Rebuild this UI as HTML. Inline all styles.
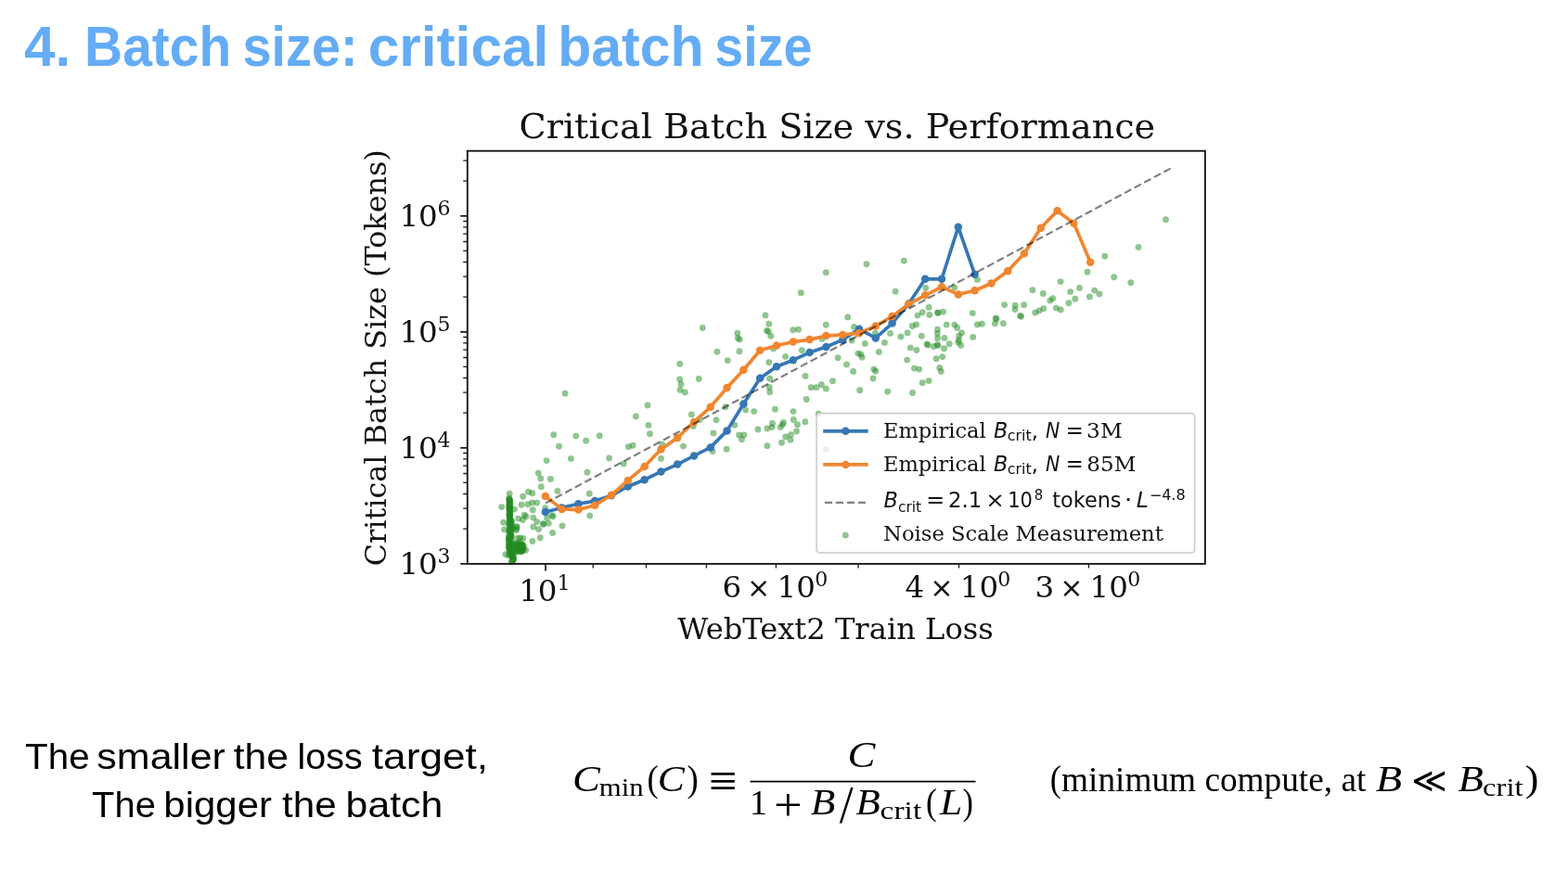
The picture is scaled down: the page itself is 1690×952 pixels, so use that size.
<!DOCTYPE html>
<html lang="en"><head><meta charset="utf-8"><title>4. Batch size: critical batch size</title>
<style>
html,body{margin:0;padding:0;background:#fff}
body{width:1690px;height:952px;position:relative;overflow:hidden;font-family:"Liberation Sans",sans-serif}
svg{display:block}
</style></head><body>
<svg width="1690" height="952" viewBox="0 0 1690 952" style="position:absolute;left:0;top:0">
<g fill="#228b22" fill-opacity="0.5">
<circle cx="602.5" cy="481.2" r="3.45"/>
<circle cx="677.4" cy="481.8" r="3.45"/>
<circle cx="682.1" cy="480.2" r="3.45"/>
<circle cx="713.7" cy="479.3" r="3.45"/>
<circle cx="589.1" cy="496.6" r="3.45"/>
<circle cx="615.4" cy="494.4" r="3.45"/>
<circle cx="656.6" cy="494.0" r="3.45"/>
<circle cx="672.2" cy="499.9" r="3.45"/>
<circle cx="712.4" cy="494.4" r="3.45"/>
<circle cx="632.9" cy="509.2" r="3.45"/>
<circle cx="580.2" cy="510.1" r="3.45"/>
<circle cx="582.7" cy="516.0" r="3.45"/>
<circle cx="593.4" cy="516.5" r="3.45"/>
<circle cx="583.3" cy="524.8" r="3.45"/>
<circle cx="600.9" cy="529.4" r="3.45"/>
<circle cx="635.3" cy="532.2" r="3.45"/>
<circle cx="569.5" cy="530.3" r="3.45"/>
<circle cx="573.8" cy="531.8" r="3.45"/>
<circle cx="563.7" cy="535.3" r="3.45"/>
<circle cx="562.0" cy="544.3" r="3.45"/>
<circle cx="568.8" cy="543.7" r="3.45"/>
<circle cx="573.6" cy="542.0" r="3.45"/>
<circle cx="578.7" cy="542.1" r="3.45"/>
<circle cx="574.2" cy="549.7" r="3.45"/>
<circle cx="587.7" cy="547.6" r="3.45"/>
<circle cx="595.1" cy="555.6" r="3.45"/>
<circle cx="596.0" cy="556.9" r="3.45"/>
<circle cx="635.7" cy="556.0" r="3.45"/>
<circle cx="565.2" cy="555.2" r="3.45"/>
<circle cx="567.0" cy="556.9" r="3.45"/>
<circle cx="574.8" cy="558.1" r="3.45"/>
<circle cx="578.8" cy="562.6" r="3.45"/>
<circle cx="585.7" cy="565.0" r="3.45"/>
<circle cx="591.3" cy="564.3" r="3.45"/>
<circle cx="589.6" cy="558.4" r="3.45"/>
<circle cx="606.0" cy="566.9" r="3.45"/>
<circle cx="574.8" cy="568.0" r="3.45"/>
<circle cx="732.7" cy="409.0" r="3.45"/>
<circle cx="734.0" cy="414.2" r="3.45"/>
<circle cx="733.1" cy="420.4" r="3.45"/>
<circle cx="738.3" cy="423.0" r="3.45"/>
<circle cx="753.2" cy="408.5" r="3.45"/>
<circle cx="829.7" cy="408.3" r="3.45"/>
<circle cx="829.2" cy="417.5" r="3.45"/>
<circle cx="829.7" cy="422.7" r="3.45"/>
<circle cx="698.0" cy="436.9" r="3.45"/>
<circle cx="745.3" cy="446.9" r="3.45"/>
<circle cx="781.9" cy="438.8" r="3.45"/>
<circle cx="803.7" cy="442.1" r="3.45"/>
<circle cx="812.7" cy="443.6" r="3.45"/>
<circle cx="835.4" cy="441.2" r="3.45"/>
<circle cx="855.0" cy="443.6" r="3.45"/>
<circle cx="754.0" cy="452.5" r="3.45"/>
<circle cx="772.0" cy="452.7" r="3.45"/>
<circle cx="747.3" cy="459.6" r="3.45"/>
<circle cx="791.8" cy="458.2" r="3.45"/>
<circle cx="698.9" cy="458.4" r="3.45"/>
<circle cx="700.5" cy="467.7" r="3.45"/>
<circle cx="768.9" cy="467.0" r="3.45"/>
<circle cx="816.9" cy="463.0" r="3.45"/>
<circle cx="826.9" cy="462.0" r="3.45"/>
<circle cx="832.1" cy="460.6" r="3.45"/>
<circle cx="832.5" cy="456.5" r="3.45"/>
<circle cx="841.1" cy="460.6" r="3.45"/>
<circle cx="843.4" cy="457.8" r="3.45"/>
<circle cx="844.4" cy="455.4" r="3.45"/>
<circle cx="855.3" cy="452.5" r="3.45"/>
<circle cx="859.5" cy="457.8" r="3.45"/>
<circle cx="858.5" cy="465.0" r="3.45"/>
<circle cx="796.6" cy="468.9" r="3.45"/>
<circle cx="801.8" cy="468.9" r="3.45"/>
<circle cx="799.4" cy="473.8" r="3.45"/>
<circle cx="846.7" cy="471.0" r="3.45"/>
<circle cx="852.4" cy="468.6" r="3.45"/>
<circle cx="852.0" cy="474.3" r="3.45"/>
<circle cx="842.5" cy="477.2" r="3.45"/>
<circle cx="826.9" cy="480.7" r="3.45"/>
<circle cx="736.5" cy="481.1" r="3.45"/>
<circle cx="783.1" cy="484.2" r="3.45"/>
<circle cx="768.1" cy="486.6" r="3.45"/>
<circle cx="825.0" cy="340.0" r="3.45"/>
<circle cx="913.7" cy="341.9" r="3.45"/>
<circle cx="828.8" cy="349.3" r="3.45"/>
<circle cx="890.3" cy="350.3" r="3.45"/>
<circle cx="920.5" cy="352.4" r="3.45"/>
<circle cx="854.8" cy="355.8" r="3.45"/>
<circle cx="860.5" cy="355.2" r="3.45"/>
<circle cx="826.4" cy="356.5" r="3.45"/>
<circle cx="828.3" cy="357.4" r="3.45"/>
<circle cx="830.8" cy="362.3" r="3.45"/>
<circle cx="794.8" cy="359.2" r="3.45"/>
<circle cx="795.3" cy="364.5" r="3.45"/>
<circle cx="797.2" cy="366.0" r="3.45"/>
<circle cx="886.0" cy="365.4" r="3.45"/>
<circle cx="918.1" cy="367.0" r="3.45"/>
<circle cx="932.3" cy="370.4" r="3.45"/>
<circle cx="796.9" cy="378.7" r="3.45"/>
<circle cx="833.5" cy="375.9" r="3.45"/>
<circle cx="864.3" cy="377.8" r="3.45"/>
<circle cx="784.3" cy="388.6" r="3.45"/>
<circle cx="846.6" cy="384.4" r="3.45"/>
<circle cx="828.8" cy="390.8" r="3.45"/>
<circle cx="903.1" cy="385.8" r="3.45"/>
<circle cx="924.9" cy="381.1" r="3.45"/>
<circle cx="927.7" cy="382.0" r="3.45"/>
<circle cx="929.1" cy="385.3" r="3.45"/>
<circle cx="912.5" cy="392.9" r="3.45"/>
<circle cx="919.6" cy="400.4" r="3.45"/>
<circle cx="941.9" cy="398.1" r="3.45"/>
<circle cx="943.8" cy="400.2" r="3.45"/>
<circle cx="868.0" cy="405.4" r="3.45"/>
<circle cx="897.5" cy="410.7" r="3.45"/>
<circle cx="941.0" cy="408.0" r="3.45"/>
<circle cx="934.0" cy="284.7" r="3.45"/>
<circle cx="974.3" cy="281.3" r="3.45"/>
<circle cx="965.1" cy="314.2" r="3.45"/>
<circle cx="997.8" cy="310.5" r="3.45"/>
<circle cx="1028.8" cy="310.1" r="3.45"/>
<circle cx="1053.4" cy="301.4" r="3.45"/>
<circle cx="1001.1" cy="331.4" r="3.45"/>
<circle cx="994.2" cy="336.8" r="3.45"/>
<circle cx="989.0" cy="340.1" r="3.45"/>
<circle cx="1001.8" cy="339.5" r="3.45"/>
<circle cx="1010.8" cy="337.3" r="3.45"/>
<circle cx="1016.5" cy="336.3" r="3.45"/>
<circle cx="1048.2" cy="337.6" r="3.45"/>
<circle cx="983.3" cy="351.5" r="3.45"/>
<circle cx="987.6" cy="349.9" r="3.45"/>
<circle cx="1020.2" cy="350.1" r="3.45"/>
<circle cx="1028.8" cy="350.1" r="3.45"/>
<circle cx="1031.6" cy="353.4" r="3.45"/>
<circle cx="1053.4" cy="350.0" r="3.45"/>
<circle cx="1058.3" cy="349.2" r="3.45"/>
<circle cx="1010.5" cy="355.2" r="3.45"/>
<circle cx="1010.3" cy="359.6" r="3.45"/>
<circle cx="1010.6" cy="364.8" r="3.45"/>
<circle cx="1017.9" cy="364.4" r="3.45"/>
<circle cx="1036.5" cy="359.0" r="3.45"/>
<circle cx="1033.6" cy="362.2" r="3.45"/>
<circle cx="1033.4" cy="366.6" r="3.45"/>
<circle cx="1048.7" cy="363.4" r="3.45"/>
<circle cx="943.5" cy="359.2" r="3.45"/>
<circle cx="959.5" cy="359.4" r="3.45"/>
<circle cx="978.1" cy="358.9" r="3.45"/>
<circle cx="970.9" cy="363.0" r="3.45"/>
<circle cx="993.3" cy="362.2" r="3.45"/>
<circle cx="953.4" cy="369.4" r="3.45"/>
<circle cx="1014.3" cy="400.5" r="3.45"/>
<circle cx="1001.1" cy="410.6" r="3.45"/>
<circle cx="994.2" cy="412.8" r="3.45"/>
<circle cx="885.4" cy="414.7" r="3.45"/>
<circle cx="874.2" cy="417.8" r="3.45"/>
<circle cx="879.9" cy="417.8" r="3.45"/>
<circle cx="890.3" cy="419.1" r="3.45"/>
<circle cx="926.7" cy="420.8" r="3.45"/>
<circle cx="956.7" cy="422.3" r="3.45"/>
<circle cx="983.5" cy="423.5" r="3.45"/>
<circle cx="869.2" cy="430.5" r="3.45"/>
<circle cx="867.8" cy="454.7" r="3.45"/>
<circle cx="882.2" cy="446.2" r="3.45"/>
<circle cx="1032.8" cy="369.2" r="3.45"/>
<circle cx="1035.6" cy="372.3" r="3.45"/>
<circle cx="999.0" cy="371.0" r="3.45"/>
<circle cx="1000.0" cy="372.0" r="3.45"/>
<circle cx="1006.3" cy="373.5" r="3.45"/>
<circle cx="1010.2" cy="371.6" r="3.45"/>
<circle cx="1011.0" cy="372.6" r="3.45"/>
<circle cx="1023.2" cy="370.8" r="3.45"/>
<circle cx="1017.6" cy="375.8" r="3.45"/>
<circle cx="981.2" cy="374.9" r="3.45"/>
<circle cx="987.8" cy="377.5" r="3.45"/>
<circle cx="947.4" cy="379.4" r="3.45"/>
<circle cx="977.6" cy="388.1" r="3.45"/>
<circle cx="1009.1" cy="386.7" r="3.45"/>
<circle cx="1015.7" cy="384.6" r="3.45"/>
<circle cx="985.4" cy="397.1" r="3.45"/>
<circle cx="990.7" cy="398.1" r="3.45"/>
<circle cx="1012.7" cy="396.5" r="3.45"/>
<circle cx="1172.0" cy="293.2" r="3.45"/>
<circle cx="1200.7" cy="298.7" r="3.45"/>
<circle cx="1143.0" cy="303.6" r="3.45"/>
<circle cx="1112.9" cy="312.7" r="3.45"/>
<circle cx="1124.3" cy="316.5" r="3.45"/>
<circle cx="1163.5" cy="310.4" r="3.45"/>
<circle cx="1153.6" cy="314.6" r="3.45"/>
<circle cx="1179.6" cy="313.1" r="3.45"/>
<circle cx="1184.9" cy="317.0" r="3.45"/>
<circle cx="1174.4" cy="319.9" r="3.45"/>
<circle cx="1158.8" cy="322.2" r="3.45"/>
<circle cx="1134.7" cy="321.7" r="3.45"/>
<circle cx="1131.8" cy="324.1" r="3.45"/>
<circle cx="1151.9" cy="326.7" r="3.45"/>
<circle cx="1082.6" cy="328.6" r="3.45"/>
<circle cx="1094.2" cy="329.3" r="3.45"/>
<circle cx="1094.0" cy="333.6" r="3.45"/>
<circle cx="1103.6" cy="328.8" r="3.45"/>
<circle cx="1124.7" cy="332.8" r="3.45"/>
<circle cx="1120.0" cy="335.0" r="3.45"/>
<circle cx="1115.7" cy="337.1" r="3.45"/>
<circle cx="1138.3" cy="332.1" r="3.45"/>
<circle cx="1143.2" cy="334.0" r="3.45"/>
<circle cx="1099.6" cy="340.5" r="3.45"/>
<circle cx="1100.6" cy="341.3" r="3.45"/>
<circle cx="1073.2" cy="343.0" r="3.45"/>
<circle cx="1074.0" cy="344.0" r="3.45"/>
<circle cx="1072.4" cy="348.7" r="3.45"/>
<circle cx="1081.4" cy="348.7" r="3.45"/>
<circle cx="1256.5" cy="236.8" r="3.45"/>
<circle cx="1227.0" cy="266.5" r="3.45"/>
<circle cx="1190.8" cy="276.3" r="3.45"/>
<circle cx="1218.8" cy="304.8" r="3.45"/>
<circle cx="890.3" cy="293.7" r="3.45"/>
<circle cx="863.3" cy="315.8" r="3.45"/>
<circle cx="757.3" cy="353.5" r="3.45"/>
<circle cx="772.9" cy="379.2" r="3.45"/>
<circle cx="732.7" cy="392.2" r="3.45"/>
<circle cx="609.0" cy="424.3" r="3.45"/>
<circle cx="685.4" cy="449.0" r="3.45"/>
<circle cx="596.7" cy="468.8" r="3.45"/>
<circle cx="620.8" cy="470.1" r="3.45"/>
<circle cx="646.2" cy="469.8" r="3.45"/>
<circle cx="631.7" cy="475.3" r="3.45"/>
<circle cx="549.2" cy="532.1" r="3.45"/>
<circle cx="540.7" cy="546.6" r="3.45"/>
<circle cx="542.6" cy="563.2" r="3.45"/>
<circle cx="543.6" cy="570.9" r="3.45"/>
<circle cx="545.0" cy="597.7" r="3.45"/>
<circle cx="554.4" cy="549.1" r="3.45"/>
<circle cx="557.3" cy="568.1" r="3.45"/>
<circle cx="556.3" cy="571.4" r="3.45"/>
<circle cx="558.7" cy="559.1" r="3.45"/>
<circle cx="563.4" cy="560.5" r="3.45"/>
<circle cx="580.5" cy="570.6" r="3.45"/>
<circle cx="595.6" cy="574.4" r="3.45"/>
<circle cx="582.2" cy="579.7" r="3.45"/>
<circle cx="573.8" cy="583.5" r="3.45"/>
<circle cx="560.6" cy="579.9" r="3.45"/>
<circle cx="563.9" cy="580.4" r="3.45"/>
<circle cx="557.8" cy="580.4" r="3.45"/>
<circle cx="566.7" cy="593.2" r="3.45"/>
<circle cx="563.4" cy="587.5" r="3.45"/>
<circle cx="560.6" cy="590.3" r="3.45"/>
<circle cx="556.8" cy="595.1" r="3.45"/>
<circle cx="559.0" cy="586.5" r="3.45"/>
<circle cx="562.0" cy="592.0" r="3.45"/>
<circle cx="558.0" cy="591.0" r="3.45"/>
<circle cx="564.5" cy="590.0" r="3.45"/>
<circle cx="561.5" cy="594.0" r="3.45"/>
<circle cx="557.5" cy="588.0" r="3.45"/>
<circle cx="560.0" cy="584.5" r="3.45"/>
<circle cx="1010.8" cy="337.3" r="3.45"/>
<circle cx="585.7" cy="565.0" r="3.45"/>
<circle cx="560.2" cy="589.5" r="3.45"/>
<circle cx="561.2" cy="591.0" r="3.45"/>
<circle cx="559.5" cy="592.5" r="3.45"/>
<circle cx="562.5" cy="588.5" r="3.45"/>
<circle cx="560.8" cy="593.5" r="3.45"/>
<circle cx="558.8" cy="590.0" r="3.45"/>
<circle cx="563.0" cy="591.5" r="3.45"/>
<circle cx="561.8" cy="587.0" r="3.45"/>
<circle cx="559.8" cy="594.5" r="3.45"/>
<circle cx="557.6" cy="592.8" r="3.45"/>
<circle cx="564.0" cy="593.0" r="3.45"/>
<circle cx="562.2" cy="595.0" r="3.45"/>
<circle cx="548.9" cy="537.3" r="3.45"/>
<circle cx="548.8" cy="538.3" r="3.45"/>
<circle cx="549.2" cy="538.9" r="3.45"/>
<circle cx="549.4" cy="539.1" r="3.45"/>
<circle cx="549.3" cy="539.8" r="3.45"/>
<circle cx="548.9" cy="540.5" r="3.45"/>
<circle cx="549.7" cy="541.6" r="3.45"/>
<circle cx="549.0" cy="542.0" r="3.45"/>
<circle cx="549.9" cy="543.2" r="3.45"/>
<circle cx="549.2" cy="543.8" r="3.45"/>
<circle cx="548.8" cy="544.9" r="3.45"/>
<circle cx="549.1" cy="545.5" r="3.45"/>
<circle cx="548.9" cy="545.4" r="3.45"/>
<circle cx="549.7" cy="546.3" r="3.45"/>
<circle cx="549.4" cy="546.9" r="3.45"/>
<circle cx="549.2" cy="548.0" r="3.45"/>
<circle cx="548.8" cy="548.6" r="3.45"/>
<circle cx="549.0" cy="548.8" r="3.45"/>
<circle cx="549.3" cy="550.1" r="3.45"/>
<circle cx="549.5" cy="550.4" r="3.45"/>
<circle cx="549.1" cy="551.3" r="3.45"/>
<circle cx="549.6" cy="552.3" r="3.45"/>
<circle cx="549.4" cy="552.4" r="3.45"/>
<circle cx="549.8" cy="553.4" r="3.45"/>
<circle cx="549.1" cy="554.3" r="3.45"/>
<circle cx="548.9" cy="555.3" r="3.45"/>
<circle cx="549.7" cy="555.4" r="3.45"/>
<circle cx="549.3" cy="555.8" r="3.45"/>
<circle cx="549.6" cy="556.4" r="3.45"/>
<circle cx="549.4" cy="557.8" r="3.45"/>
<circle cx="549.1" cy="558.6" r="3.45"/>
<circle cx="549.5" cy="559.1" r="3.45"/>
<circle cx="549.3" cy="559.7" r="3.45"/>
<circle cx="549.9" cy="560.6" r="3.45"/>
<circle cx="549.5" cy="561.0" r="3.45"/>
<circle cx="550.8" cy="561.2" r="3.45"/>
<circle cx="551.9" cy="562.5" r="3.45"/>
<circle cx="549.2" cy="563.4" r="3.45"/>
<circle cx="550.6" cy="563.6" r="3.45"/>
<circle cx="549.9" cy="564.0" r="3.45"/>
<circle cx="548.5" cy="564.8" r="3.45"/>
<circle cx="551.0" cy="565.4" r="3.45"/>
<circle cx="549.0" cy="566.2" r="3.45"/>
<circle cx="551.4" cy="567.1" r="3.45"/>
<circle cx="549.8" cy="567.5" r="3.45"/>
<circle cx="551.5" cy="568.6" r="3.45"/>
<circle cx="551.4" cy="569.6" r="3.45"/>
<circle cx="549.7" cy="569.8" r="3.45"/>
<circle cx="551.5" cy="570.5" r="3.45"/>
<circle cx="548.7" cy="571.8" r="3.45"/>
<circle cx="549.0" cy="571.7" r="3.45"/>
<circle cx="549.9" cy="572.5" r="3.45"/>
<circle cx="549.1" cy="573.5" r="3.45"/>
<circle cx="549.7" cy="573.6" r="3.45"/>
<circle cx="550.3" cy="574.7" r="3.45"/>
<circle cx="550.7" cy="576.0" r="3.45"/>
<circle cx="550.4" cy="576.2" r="3.45"/>
<circle cx="548.3" cy="577.1" r="3.45"/>
<circle cx="551.1" cy="578.0" r="3.45"/>
<circle cx="551.1" cy="578.6" r="3.45"/>
<circle cx="549.6" cy="578.9" r="3.45"/>
<circle cx="550.5" cy="579.3" r="3.45"/>
<circle cx="548.4" cy="579.9" r="3.45"/>
<circle cx="548.7" cy="580.7" r="3.45"/>
<circle cx="548.3" cy="581.6" r="3.45"/>
<circle cx="548.7" cy="581.9" r="3.45"/>
<circle cx="549.5" cy="582.7" r="3.45"/>
<circle cx="551.4" cy="583.3" r="3.45"/>
<circle cx="548.7" cy="584.6" r="3.45"/>
<circle cx="549.4" cy="584.9" r="3.45"/>
<circle cx="548.6" cy="585.7" r="3.45"/>
<circle cx="551.9" cy="586.9" r="3.45"/>
<circle cx="549.9" cy="587.2" r="3.45"/>
<circle cx="548.5" cy="587.5" r="3.45"/>
<circle cx="549.1" cy="588.5" r="3.45"/>
<circle cx="548.7" cy="589.7" r="3.45"/>
<circle cx="551.7" cy="589.5" r="3.45"/>
<circle cx="548.7" cy="590.7" r="3.45"/>
<circle cx="548.2" cy="591.4" r="3.45"/>
<circle cx="551.8" cy="592.1" r="3.45"/>
<circle cx="550.7" cy="593.1" r="3.45"/>
<circle cx="549.5" cy="593.2" r="3.45"/>
<circle cx="551.0" cy="593.8" r="3.45"/>
<circle cx="551.1" cy="594.9" r="3.45"/>
<circle cx="548.9" cy="595.4" r="3.45"/>
<circle cx="551.8" cy="596.5" r="3.45"/>
<circle cx="551.2" cy="597.3" r="3.45"/>
<circle cx="550.9" cy="597.9" r="3.45"/>
<circle cx="550.1" cy="598.0" r="3.45"/>
<circle cx="548.2" cy="598.9" r="3.45"/>
<circle cx="551.3" cy="597.5" r="3.45"/>
<circle cx="551.9" cy="598.3" r="3.45"/>
<circle cx="551.8" cy="599.0" r="3.45"/>
<circle cx="552.9" cy="599.8" r="3.45"/>
<circle cx="553.5" cy="600.6" r="3.45"/>
<circle cx="552.3" cy="601.4" r="3.45"/>
<circle cx="553.4" cy="602.1" r="3.45"/>
<circle cx="553.6" cy="602.9" r="3.45"/>
<circle cx="553.5" cy="603.7" r="3.45"/>
<circle cx="552.1" cy="604.5" r="3.45"/>
<circle cx="551.7" cy="605.2" r="3.45"/>
<circle cx="551.7" cy="606.0" r="3.45"/>
<circle cx="560.5" cy="591.5" r="3.45"/>
<circle cx="556.6" cy="586.5" r="3.45"/>
<circle cx="561.4" cy="587.8" r="3.45"/>
<circle cx="557.7" cy="586.6" r="3.45"/>
<circle cx="562.8" cy="591.7" r="3.45"/>
<circle cx="563.2" cy="587.8" r="3.45"/>
<circle cx="560.0" cy="587.4" r="3.45"/>
<circle cx="561.7" cy="593.7" r="3.45"/>
<circle cx="558.0" cy="593.6" r="3.45"/>
<circle cx="562.2" cy="589.6" r="3.45"/>
<circle cx="555.7" cy="593.2" r="3.45"/>
<circle cx="559.8" cy="588.6" r="3.45"/>
<circle cx="560.9" cy="590.9" r="3.45"/>
<circle cx="563.3" cy="587.7" r="3.45"/>
<circle cx="562.5" cy="593.4" r="3.45"/>
<circle cx="563.2" cy="589.6" r="3.45"/>
<circle cx="554.7" cy="586.0" r="3.45"/>
<circle cx="555.1" cy="587.8" r="3.45"/>
<circle cx="554.3" cy="589.6" r="3.45"/>
<circle cx="554.0" cy="591.4" r="3.45"/>
<circle cx="555.9" cy="593.2" r="3.45"/>
<circle cx="555.3" cy="595.0" r="3.45"/>
<circle cx="556.6" cy="567.6" r="3.45"/>
<circle cx="556.5" cy="570.8" r="3.45"/>
</g>
<polyline points="587.8,552.1 605.6,547.4 623.4,543.2 641.2,540.1 659.0,534.3 676.8,524.5 694.6,517.2 712.4,508.6 730.2,500.6 748.0,491.5 765.8,482.4 783.6,464.4 801.4,435.5 819.2,407.8 837.0,395.3 854.8,388.2 872.6,380.1 890.4,374.0 908.2,366.4 926.0,354.7 943.8,364.5 961.6,348.6 979.4,327.5 997.2,300.8 1015.0,300.8 1032.8,244.8 1050.6,295.8" fill="none" stroke="#3577b4" stroke-width="3.65" stroke-linejoin="round" stroke-linecap="round"/>
<g fill="#3577b4"><circle cx="587.8" cy="552.1" r="4.25"/><circle cx="605.6" cy="547.4" r="4.25"/><circle cx="623.4" cy="543.2" r="4.25"/><circle cx="641.2" cy="540.1" r="4.25"/><circle cx="659.0" cy="534.3" r="4.25"/><circle cx="676.8" cy="524.5" r="4.25"/><circle cx="694.6" cy="517.2" r="4.25"/><circle cx="712.4" cy="508.6" r="4.25"/><circle cx="730.2" cy="500.6" r="4.25"/><circle cx="748.0" cy="491.5" r="4.25"/><circle cx="765.8" cy="482.4" r="4.25"/><circle cx="783.6" cy="464.4" r="4.25"/><circle cx="801.4" cy="435.5" r="4.25"/><circle cx="819.2" cy="407.8" r="4.25"/><circle cx="837.0" cy="395.3" r="4.25"/><circle cx="854.8" cy="388.2" r="4.25"/><circle cx="872.6" cy="380.1" r="4.25"/><circle cx="890.4" cy="374.0" r="4.25"/><circle cx="908.2" cy="366.4" r="4.25"/><circle cx="926.0" cy="354.7" r="4.25"/><circle cx="943.8" cy="364.5" r="4.25"/><circle cx="961.6" cy="348.6" r="4.25"/><circle cx="979.4" cy="327.5" r="4.25"/><circle cx="997.2" cy="300.8" r="4.25"/><circle cx="1015.0" cy="300.8" r="4.25"/><circle cx="1032.8" cy="244.8" r="4.25"/><circle cx="1050.6" cy="295.8" r="4.25"/></g>
<polyline points="587.8,534.9 605.6,548.9 623.4,549.6 641.2,544.7 659.0,533.8 676.8,517.9 694.6,503.0 712.4,484.4 730.2,472.0 748.0,454.9 765.8,438.8 783.6,418.0 801.4,398.8 819.2,377.8 837.0,372.5 854.8,368.6 872.6,366.1 890.4,362.1 908.2,360.9 926.0,359.2 943.8,351.5 961.6,341.1 979.4,327.8 997.2,318.3 1015.0,309.3 1032.8,317.4 1050.6,313.2 1068.4,305.5 1086.2,292.3 1104.0,273.2 1121.8,245.8 1139.6,227.2 1157.4,240.7 1175.2,282.8" fill="none" stroke="#f0862f" stroke-width="3.65" stroke-linejoin="round" stroke-linecap="round"/>
<g fill="#f0862f"><circle cx="587.8" cy="534.9" r="4.25"/><circle cx="605.6" cy="548.9" r="4.25"/><circle cx="623.4" cy="549.6" r="4.25"/><circle cx="641.2" cy="544.7" r="4.25"/><circle cx="659.0" cy="533.8" r="4.25"/><circle cx="676.8" cy="517.9" r="4.25"/><circle cx="694.6" cy="503.0" r="4.25"/><circle cx="712.4" cy="484.4" r="4.25"/><circle cx="730.2" cy="472.0" r="4.25"/><circle cx="748.0" cy="454.9" r="4.25"/><circle cx="765.8" cy="438.8" r="4.25"/><circle cx="783.6" cy="418.0" r="4.25"/><circle cx="801.4" cy="398.8" r="4.25"/><circle cx="819.2" cy="377.8" r="4.25"/><circle cx="837.0" cy="372.5" r="4.25"/><circle cx="854.8" cy="368.6" r="4.25"/><circle cx="872.6" cy="366.1" r="4.25"/><circle cx="890.4" cy="362.1" r="4.25"/><circle cx="908.2" cy="360.9" r="4.25"/><circle cx="926.0" cy="359.2" r="4.25"/><circle cx="943.8" cy="351.5" r="4.25"/><circle cx="961.6" cy="341.1" r="4.25"/><circle cx="979.4" cy="327.8" r="4.25"/><circle cx="997.2" cy="318.3" r="4.25"/><circle cx="1015.0" cy="309.3" r="4.25"/><circle cx="1032.8" cy="317.4" r="4.25"/><circle cx="1050.6" cy="313.2" r="4.25"/><circle cx="1068.4" cy="305.5" r="4.25"/><circle cx="1086.2" cy="292.3" r="4.25"/><circle cx="1104.0" cy="273.2" r="4.25"/><circle cx="1121.8" cy="245.8" r="4.25"/><circle cx="1139.6" cy="227.2" r="4.25"/><circle cx="1157.4" cy="240.7" r="4.25"/><circle cx="1175.2" cy="282.8" r="4.25"/></g>
<line x1="588.0" y1="542.5" x2="1262.5" y2="181.1" stroke="#000" stroke-opacity="0.5" stroke-width="2.2" stroke-dasharray="8.15 3.85"/>
<rect x="503.8" y="162.7" width="795.1" height="445.2" fill="none" stroke="#1a1a1a" stroke-width="1.9"/>
<path d="M496.2 607.8H503.8 M496.2 482.8H503.8 M496.2 357.8H503.8 M496.2 232.8H503.8" stroke="#1a1a1a" stroke-width="1.7" fill="none"/>
<path d="M499.2 570.2H503.8 M499.2 548.2H503.8 M499.2 532.5H503.8 M499.2 520.4H503.8 M499.2 510.5H503.8 M499.2 502.2H503.8 M499.2 494.9H503.8 M499.2 488.5H503.8 M499.2 445.2H503.8 M499.2 423.2H503.8 M499.2 407.5H503.8 M499.2 395.4H503.8 M499.2 385.5H503.8 M499.2 377.2H503.8 M499.2 369.9H503.8 M499.2 363.5H503.8 M499.2 320.2H503.8 M499.2 298.2H503.8 M499.2 282.5H503.8 M499.2 270.4H503.8 M499.2 260.5H503.8 M499.2 252.2H503.8 M499.2 244.9H503.8 M499.2 238.5H503.8 M499.2 195.2H503.8 M499.2 173.2H503.8 M639.2 607.9V612.5 M696.5 607.9V612.5 M761.4 607.9V612.5 M836.4 607.9V612.5 M925.0 607.9V612.5 M1033.5 607.9V612.5 M1173.4 607.9V612.5" stroke="#1a1a1a" stroke-width="1.3" fill="none"/>
<path d="M588.0 607.9V615.5" stroke="#1a1a1a" stroke-width="1.7" fill="none"/>
<g fill="#111">
<text x="430.44" y="619.1" font-family="'DejaVu Serif', serif" font-size="32.5">10</text>
<text x="471.5" y="606.9" font-family="'DejaVu Serif', serif" font-size="22">3</text>
<text x="430.44" y="494.1" font-family="'DejaVu Serif', serif" font-size="32.5">10</text>
<text x="471.5" y="481.9" font-family="'DejaVu Serif', serif" font-size="22">4</text>
<text x="430.44" y="369.1" font-family="'DejaVu Serif', serif" font-size="32.5">10</text>
<text x="471.5" y="356.9" font-family="'DejaVu Serif', serif" font-size="22">5</text>
<text x="430.44" y="244.1" font-family="'DejaVu Serif', serif" font-size="32.5">10</text>
<text x="471.5" y="231.9" font-family="'DejaVu Serif', serif" font-size="22">6</text>
<text x="559.13" y="647.8" font-family="'DejaVu Serif', serif" font-size="32.5">10</text>
<text x="600.62" y="636.0" font-family="'DejaVu Serif', serif" font-size="22">1</text>
<text x="778.4" y="643.8" font-family="'DejaVu Serif', serif" font-size="32.5">6</text>
<text x="805.11" y="643.8" font-family="'DejaVu Sans', sans-serif" font-size="30.2">×</text>
<text x="837.57" y="643.8" font-family="'DejaVu Serif', serif" font-size="32.5">10</text>
<text x="878.13" y="632.1" font-family="'DejaVu Serif', serif" font-size="22">0</text>
<text x="975.5" y="643.8" font-family="'DejaVu Serif', serif" font-size="32.5">4</text>
<text x="1002.27" y="643.8" font-family="'DejaVu Sans', sans-serif" font-size="30.2">×</text>
<text x="1034.72" y="643.8" font-family="'DejaVu Serif', serif" font-size="32.5">10</text>
<text x="1075.28" y="632.1" font-family="'DejaVu Serif', serif" font-size="22">0</text>
<text x="1115.4" y="643.8" font-family="'DejaVu Serif', serif" font-size="32.5">3</text>
<text x="1142.15" y="643.8" font-family="'DejaVu Sans', sans-serif" font-size="30.2">×</text>
<text x="1174.60" y="643.8" font-family="'DejaVu Serif', serif" font-size="32.5">10</text>
<text x="1215.16" y="632.1" font-family="'DejaVu Serif', serif" font-size="22">0</text>
</g>
<g font-family="'DejaVu Serif', serif" fill="#111">
<text x="902.3" y="149.0" font-size="38.15" text-anchor="middle">Critical Batch Size vs. Performance</text>
<text x="900.5" y="688.6" font-size="32.15" text-anchor="middle">WebText2 Train Loss</text>
<text transform="translate(415.7 385.75) rotate(-90)" font-size="31.85" text-anchor="middle">Critical Batch Size (Tokens)</text>
</g>
<g fill="#228b22" fill-opacity="0.5"><circle cx="890.3" cy="484.3" r="3.45"/></g>
<rect x="880.0" y="445.7" width="407.6" height="150.2" rx="3.6" fill="#fff" fill-opacity="0.8" stroke="#cfcfcf" stroke-width="1.7"/>
<path d="M887.2 464.8H935.7" stroke="#3577b4" stroke-width="3.65" fill="none"/><circle cx="911.4" cy="464.8" r="4.25" fill="#3577b4"/>
<path d="M887.2 500.9H935.7" stroke="#f0862f" stroke-width="3.65" fill="none"/><circle cx="911.4" cy="500.9" r="4.25" fill="#f0862f"/>
<path d="M888.9 541.8H933" stroke="#000" stroke-opacity="0.5" stroke-width="2.2" stroke-dasharray="8.15 3.85" fill="none"/>
<circle cx="911.3" cy="577.0" r="3.5" fill="#228b22" fill-opacity="0.5"/>
<g fill="#111">
<text x="952.06" y="471.6" font-family="'DejaVu Serif', serif" font-size="22.6" textLength="110.72" lengthAdjust="spacingAndGlyphs">Empirical</text>
<text x="1071.00" y="471.6" font-family="'DejaVu Sans', sans-serif" font-style="oblique" font-size="22.6" textLength="15.26" lengthAdjust="spacingAndGlyphs">B</text>
<text x="1085.82" y="475.4" font-family="'DejaVu Sans', sans-serif" font-size="15.8" textLength="25.96" lengthAdjust="spacingAndGlyphs">crit</text>
<text x="1111.86" y="471.6" font-family="'DejaVu Sans', sans-serif" font-size="22.6">,</text>
<text x="1126.95" y="471.6" font-family="'DejaVu Sans', sans-serif" font-style="oblique" font-size="22.6" textLength="15.31" lengthAdjust="spacingAndGlyphs">N</text>
<text x="1148.70" y="471.6" font-family="'DejaVu Sans', sans-serif" font-size="22.6" textLength="19.01" lengthAdjust="spacingAndGlyphs">=</text>
<text x="1171.14" y="471.6" font-family="'DejaVu Serif', serif" font-size="22.6" textLength="38.55" lengthAdjust="spacingAndGlyphs">3M</text>
<text x="952.06" y="507.6" font-family="'DejaVu Serif', serif" font-size="22.6" textLength="110.72" lengthAdjust="spacingAndGlyphs">Empirical</text>
<text x="1071.00" y="507.6" font-family="'DejaVu Sans', sans-serif" font-style="oblique" font-size="22.6" textLength="15.26" lengthAdjust="spacingAndGlyphs">B</text>
<text x="1085.82" y="511.4" font-family="'DejaVu Sans', sans-serif" font-size="15.8" textLength="25.96" lengthAdjust="spacingAndGlyphs">crit</text>
<text x="1111.86" y="507.6" font-family="'DejaVu Sans', sans-serif" font-size="22.6">,</text>
<text x="1126.95" y="507.6" font-family="'DejaVu Sans', sans-serif" font-style="oblique" font-size="22.6" textLength="15.31" lengthAdjust="spacingAndGlyphs">N</text>
<text x="1148.70" y="507.6" font-family="'DejaVu Sans', sans-serif" font-size="22.6" textLength="19.01" lengthAdjust="spacingAndGlyphs">=</text>
<text x="1171.36" y="507.6" font-family="'DejaVu Serif', serif" font-size="22.6" textLength="52.93" lengthAdjust="spacingAndGlyphs">85M</text>
<text x="952.59" y="547.4" font-family="'DejaVu Sans', sans-serif" font-style="oblique" font-size="22.6" textLength="15.37" lengthAdjust="spacingAndGlyphs">B</text>
<text x="967.95" y="551.5" font-family="'DejaVu Sans', sans-serif" font-size="15.8" textLength="25.22" lengthAdjust="spacingAndGlyphs">crit</text>
<text x="998.18" y="547.4" font-family="'DejaVu Sans', sans-serif" font-size="22.6" textLength="19.94" lengthAdjust="spacingAndGlyphs">=</text>
<text x="1022.04" y="547.4" font-family="'DejaVu Sans', sans-serif" font-size="22.6" textLength="36.16" lengthAdjust="spacingAndGlyphs">2.1</text>
<text x="1062.32" y="547.4" font-family="'DejaVu Sans', sans-serif" font-size="22.6" textLength="20.54" lengthAdjust="spacingAndGlyphs">×</text>
<text x="1086.19" y="547.4" font-family="'DejaVu Sans', sans-serif" font-size="22.6" textLength="26.70" lengthAdjust="spacingAndGlyphs">10</text>
<text x="1114.79" y="538.8" font-family="'DejaVu Sans', sans-serif" font-size="15.8" textLength="9.42" lengthAdjust="spacingAndGlyphs">8</text>
<text x="1134.30" y="547.4" font-family="'DejaVu Sans', sans-serif" font-size="22.6" textLength="74.21" lengthAdjust="spacingAndGlyphs">tokens</text>
<text x="1211.89" y="547.4" font-family="'DejaVu Sans', sans-serif" font-size="22.6" textLength="8.64" lengthAdjust="spacingAndGlyphs">·</text>
<text x="1224.86" y="547.4" font-family="'DejaVu Sans', sans-serif" font-style="oblique" font-size="22.6" textLength="13.16" lengthAdjust="spacingAndGlyphs">L</text>
<text x="1238.70" y="538.5" font-family="'DejaVu Sans', sans-serif" font-size="15.8" textLength="39.00" lengthAdjust="spacingAndGlyphs">−4.8</text>
<text x="952.09" y="582.9" font-family="'DejaVu Serif', serif" font-size="22.6" textLength="301.68" lengthAdjust="spacingAndGlyphs">Noise Scale Measurement</text>
</g>
<text y="71.0" font-family="'Liberation Sans', sans-serif" font-weight="bold" font-size="61" fill="#64acf6"><tspan x="25.89" textLength="50.37" lengthAdjust="spacingAndGlyphs">4.</tspan> <tspan x="90.98" textLength="158.42" lengthAdjust="spacingAndGlyphs">Batch</tspan> <tspan x="261.44" textLength="124.23" lengthAdjust="spacingAndGlyphs">size:</tspan> <tspan x="396.64" textLength="194.75" lengthAdjust="spacingAndGlyphs">critical</tspan> <tspan x="601.21" textLength="157.35" lengthAdjust="spacingAndGlyphs">batch</tspan> <tspan x="770.25" textLength="105.15" lengthAdjust="spacingAndGlyphs">size</tspan></text>
<text y="829.0" font-family="'Liberation Sans', sans-serif" font-size="39" fill="#000"><tspan x="27.11" textLength="69.47" lengthAdjust="spacingAndGlyphs">The</tspan> <tspan x="104.30" textLength="138.62" lengthAdjust="spacingAndGlyphs">smaller</tspan> <tspan x="251.66" textLength="59.43" lengthAdjust="spacingAndGlyphs">the</tspan> <tspan x="320.46" textLength="70.18" lengthAdjust="spacingAndGlyphs">loss</tspan> <tspan x="400.84" textLength="125.34" lengthAdjust="spacingAndGlyphs">target,</tspan></text>
<text y="880.7" font-family="'Liberation Sans', sans-serif" font-size="39" fill="#000"><tspan x="99.12" textLength="68.84" lengthAdjust="spacingAndGlyphs">The</tspan> <tspan x="176.37" textLength="116.63" lengthAdjust="spacingAndGlyphs">bigger</tspan> <tspan x="303.97" textLength="58.80" lengthAdjust="spacingAndGlyphs">the</tspan> <tspan x="372.62" textLength="104.68" lengthAdjust="spacingAndGlyphs">batch</tspan></text>
</svg>
<svg width="1690" height="952" viewBox="0 0 1690 952" style="position:absolute;left:0;top:0" fill="#000">
<text x="617.00" y="852.6" font-family="'Liberation Serif', serif" font-style="italic" font-size="40.5" textLength="29.80" lengthAdjust="spacingAndGlyphs">C</text>
<text x="645.75" y="857.5" font-family="'Liberation Serif', serif" font-size="27" textLength="47.80" lengthAdjust="spacingAndGlyphs">min</text>
<text x="697.49" y="852.6" font-family="'Liberation Serif', serif" font-size="41" textLength="12.18" lengthAdjust="spacingAndGlyphs">(</text>
<text x="708.86" y="852.6" font-family="'Liberation Serif', serif" font-style="italic" font-size="40.5" textLength="29.05" lengthAdjust="spacingAndGlyphs">C</text>
<text x="740.53" y="852.6" font-family="'Liberation Serif', serif" font-size="41" textLength="12.18" lengthAdjust="spacingAndGlyphs">)</text>
<text x="763.78" y="860.3" font-family="'Liberation Serif', serif" font-size="54" textLength="30.68" lengthAdjust="spacingAndGlyphs">≡</text>
<text x="913.49" y="827.2" font-family="'Liberation Serif', serif" font-style="italic" font-size="40.5" textLength="29.91" lengthAdjust="spacingAndGlyphs">C</text>
<text x="807.88" y="878.0" font-family="'Liberation Serif', serif" font-size="38" textLength="18.89" lengthAdjust="spacingAndGlyphs">1</text>
<text x="834.08" y="884.9" font-family="'Liberation Serif', serif" font-size="50" textLength="30.68" lengthAdjust="spacingAndGlyphs">+</text>
<text x="873.81" y="878.0" font-family="'Liberation Serif', serif" font-style="italic" font-size="40.5" textLength="26.54" lengthAdjust="spacingAndGlyphs">B</text>
<text x="904.70" y="887.1" font-family="'Liberation Serif', serif" font-size="56" textLength="14.89" lengthAdjust="spacingAndGlyphs">/</text>
<text x="922.51" y="878.0" font-family="'Liberation Serif', serif" font-style="italic" font-size="40.5" textLength="26.22" lengthAdjust="spacingAndGlyphs">B</text>
<text x="948.63" y="883.0" font-family="'Liberation Serif', serif" font-size="27" textLength="44.56" lengthAdjust="spacingAndGlyphs">crit</text>
<text x="998.04" y="878.0" font-family="'Liberation Serif', serif" font-size="41" textLength="11.79" lengthAdjust="spacingAndGlyphs">(</text>
<text x="1013.12" y="878.0" font-family="'Liberation Serif', serif" font-style="italic" font-size="40.5" textLength="24.23" lengthAdjust="spacingAndGlyphs">L</text>
<text x="1037.50" y="878.0" font-family="'Liberation Serif', serif" font-size="41" textLength="11.40" lengthAdjust="spacingAndGlyphs">)</text>
<text x="1131.71" y="852.6" font-family="'Liberation Serif', serif" font-size="41" textLength="12.05" lengthAdjust="spacingAndGlyphs">(</text>
<text x="1144.12" y="852.6" font-family="'Liberation Serif', serif" font-size="38" textLength="328.21" lengthAdjust="spacingAndGlyphs">minimum compute, at</text>
<text x="1482.88" y="852.6" font-family="'Liberation Serif', serif" font-style="italic" font-size="40.5" textLength="28.33" lengthAdjust="spacingAndGlyphs">B</text>
<text x="1521.25" y="854.3" font-family="'DejaVu Sans', sans-serif" font-size="36.8" textLength="38.49" lengthAdjust="spacingAndGlyphs">≪</text>
<text x="1571.60" y="852.6" font-family="'Liberation Serif', serif" font-style="italic" font-size="40.5" textLength="27.38" lengthAdjust="spacingAndGlyphs">B</text>
<text x="1598.06" y="857.5" font-family="'Liberation Serif', serif" font-size="27" textLength="43.62" lengthAdjust="spacingAndGlyphs">crit</text>
<text x="1643.79" y="852.6" font-family="'Liberation Serif', serif" font-size="41" textLength="14.64" lengthAdjust="spacingAndGlyphs">)</text>
<rect x="808.5" y="841.75" width="243" height="1.7" fill="#000"/>
</svg>
</body></html>
